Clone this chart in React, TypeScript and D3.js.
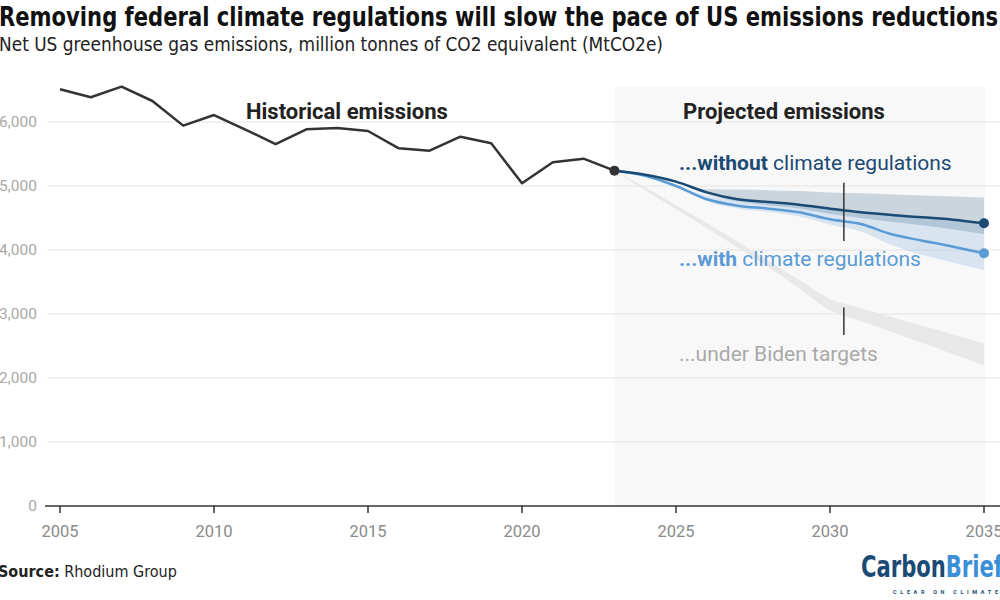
import * as d3 from "d3";

// Historical emissions, MtCO2e
const histYears = [2005, 2006, 2007, 2008, 2009, 2010, 2011, 2012, 2013, 2014, 2015, 2016, 2017, 2018, 2019, 2020, 2021, 2022, 2023];
const histValues = [6511, 6386, 6552, 6328, 5943, 6109, 5885, 5656, 5885, 5905, 5859, 5589, 5552, 5771, 5667, 5042, 5370, 5427, 5240];

// Projections
const projYears = [2023, 2024, 2025, 2026, 2027, 2028, 2029, 2030, 2031, 2032, 2033, 2034, 2035];
const withoutRegs = [5240, 5177, 5068, 4901, 4792, 4750, 4708, 4646, 4589, 4547, 4510, 4474, 4417];
const withoutHigh = [5240, 5177, 5068, 4950, 4945, 4935, 4920, 4900, 4885, 4868, 4852, 4836, 4820];
const withoutLow = [5240, 5177, 5068, 4870, 4760, 4700, 4650, 4565, 4500, 4440, 4385, 4320, 4250];
const withRegs = [5240, 5161, 5000, 4792, 4693, 4646, 4589, 4479, 4406, 4245, 4146, 4052, 3948];
const withHigh = [5240, 5161, 5000, 4850, 4780, 4745, 4705, 4645, 4590, 4545, 4505, 4470, 4420];
const withLow = [5240, 5161, 5000, 4760, 4650, 4595, 4525, 4400, 4290, 4080, 3920, 3800, 3687];
const bidenHigh = [5240, 4975, 4700, 4420, 4130, 3830, 3530, 3235, 3095, 2955, 2815, 2680, 2540];
const bidenLow = [5240, 4935, 4640, 4340, 4040, 3735, 3400, 3060, 2890, 2720, 2545, 2370, 2200];

const yTicks = [0, 1000, 2000, 3000, 4000, 5000, 6000];
const xTicks = [2005, 2010, 2015, 2020, 2025, 2030, 2035];
const projTop = 6550;
const markerYear = 2030.45;

const NAVY = "#1b4a74";
const BLUE = "#5b9bd5";
const DARK = "#333333";
const FONT = "Roboto, 'Noto Sans', sans-serif";
const NARROW = "'Liberation Sans Narrow', 'DejaVu Sans Condensed', Roboto, sans-serif";

const x = d3.scaleLinear().domain([2005, 2035]).range([60, 984]);
const y = d3.scaleLinear().domain([0, 6000]).range([506, 122]);

const line = d3
  .line<[number, number]>()
  .x((d) => x(d[0]))
  .y((d) => y(d[1]));
const smooth = d3
  .line<[number, number]>()
  .x((d) => x(d[0]))
  .y((d) => y(d[1]))
  .curve(d3.curveMonotoneX);

const band = (hi: number[], lo: number[]) =>
  d3
    .area<number>()
    .x((d) => x(d))
    .y0((_, i) => y(lo[i]))
    .y1((_, i) => y(hi[i]))
    .curve(d3.curveMonotoneX)(projYears) || "";

export default function App() {
  const histPts = histYears.map((yr, i) => [yr, histValues[i]] as [number, number]);
  const withoutPts = projYears.map((yr, i) => [yr, withoutRegs[i]] as [number, number]);
  const withPts = projYears.map((yr, i) => [yr, withRegs[i]] as [number, number]);
  const last = projYears.length - 1;

  return (
    <svg
      width={1000}
      height={600}
      style={{ position: "absolute", left: 0, top: 0, background: "#fff" }}
      fontFamily={FONT}
    >
      {/* Title block */}
      <text x={-1} y={26} fontFamily={NARROW} fontWeight="bold" fontSize={26} fill="#111"
        textLength={999} lengthAdjust="spacingAndGlyphs">
        Removing federal climate regulations will slow the pace of US emissions reductions
      </text>
      <text x={-1} y={51} fontFamily={NARROW} fontSize={19} fill="#222"
        textLength={664} lengthAdjust="spacingAndGlyphs">
        Net US greenhouse gas emissions, million tonnes of CO2 equivalent (MtCO2e)
      </text>

      {/* Projection background */}
      <rect x={x(2023)} y={y(projTop)} width={x(2035) - x(2023) + 1} height={y(0) - y(projTop)} fill="#f8f8f8" />

      {/* Grid */}
      {yTicks.filter((t) => t > 0).map((t) => (
        <line key={t} x1={47} x2={1000} y1={y(t)} y2={y(t)} stroke="#e4e4e4" strokeWidth={1} />
      ))}
      {yTicks.map((t) => (
        <text key={t} x={37} y={y(t)} dy="0.35em" textAnchor="end" fontSize={15.5} fill="#a8a8a8">
          {d3.format(",")(t)}
        </text>
      ))}

      {/* X axis */}
      <line x1={45} x2={1000} y1={y(0)} y2={y(0)} stroke={DARK} strokeWidth={1.5} />
      {xTicks.map((t) => (
        <g key={t} transform={`translate(${x(t)},${y(0)})`}>
          <line y1={0} y2={7} stroke={DARK} strokeWidth={1.5} />
          <text y={31} textAnchor="middle" fontSize={16.5} fill="#8a8a8a">{t}</text>
        </g>
      ))}

      {/* Bands */}
      <path d={band(bidenHigh, bidenLow)} fill="#e8e8e8" />
      <path d={band(withHigh, withLow)} fill={BLUE} fillOpacity={0.2} />
      <path d={band(withoutHigh, withoutLow)} fill={NAVY} fillOpacity={0.2} />

      {/* Lines */}
      <path d={line(histPts) || ""} fill="none" stroke={DARK} strokeWidth={2.5} strokeLinejoin="round" />
      <path d={smooth(withPts) || ""} fill="none" stroke={BLUE} strokeWidth={2.5} />
      <path d={smooth(withoutPts) || ""} fill="none" stroke={NAVY} strokeWidth={2.5} />
      <circle cx={x(histYears[histYears.length - 1])} cy={y(histValues[histValues.length - 1])} r={5} fill={DARK} />
      <circle cx={x(projYears[last])} cy={y(withoutRegs[last])} r={5} fill={NAVY} />
      <circle cx={x(projYears[last])} cy={y(withRegs[last])} r={5} fill={BLUE} />

      {/* Annotations */}
      <text x={246} y={119} fontSize={22} fontWeight="bold" fill="#222">Historical emissions</text>
      <text x={683} y={119} fontSize={22} fontWeight="bold" fill="#222">Projected emissions</text>
      <text x={679} y={170} fontSize={21} fill={NAVY}>
        <tspan fontWeight="bold">...without</tspan> climate regulations
      </text>
      <text x={679} y={266} fontSize={21} fill={BLUE}>
        <tspan fontWeight="bold">...with</tspan> climate regulations
      </text>
      <text x={679} y={361} fontSize={21} fill="#a9a9a9">...under Biden targets</text>
      <line x1={x(markerYear)} x2={x(markerYear)} y1={y(5050)} y2={y(4140)} stroke={DARK} strokeWidth={1.5} />
      <line x1={x(markerYear)} x2={x(markerYear)} y1={y(3100)} y2={y(2670)} stroke={DARK} strokeWidth={1.5} />

      {/* Footer */}
      <text x={-2} y={577} fontFamily={NARROW} fontSize={16} fill="#222">
        <tspan fontWeight="bold">Source:</tspan> Rhodium Group
      </text>
      <text x={861} y={577} fontFamily={NARROW} fontWeight="bold" fontSize={30}
        textLength={142} lengthAdjust="spacingAndGlyphs">
        <tspan fill={NAVY}>Carbon</tspan><tspan fill="#3b8fd6">Brief</tspan>
      </text>
      <text x={893} y={594} fontFamily={FONT} fontWeight="bold" fontSize={5.5} fill={NAVY}
        textLength={105} lengthAdjust="spacing">
        CLEAR ON CLIMATE
      </text>
    </svg>
  );
}
